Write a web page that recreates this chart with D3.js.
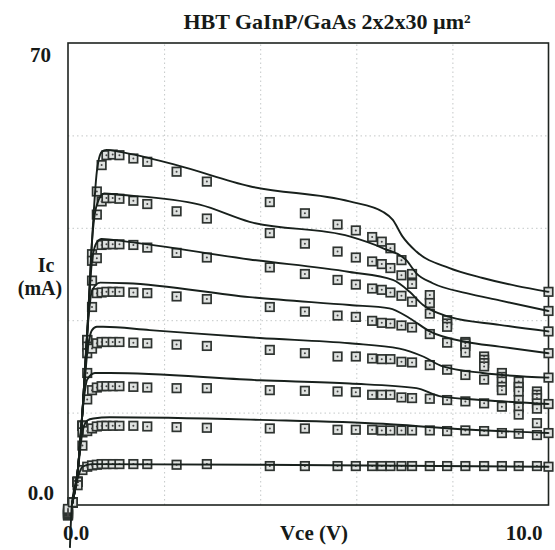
<!DOCTYPE html>
<html>
<head>
<meta charset="utf-8">
<script src="https://cdn.jsdelivr.net/npm/d3@7"></script>
<style>
  body { margin: 0; background: #fff; }
  svg text { font-family: "Liberation Serif", "DejaVu Serif", serif; font-weight: bold; fill: #161a18; }
</style>
</head>
<body>
<div id="chart"></div>
<script>
// measured Vce sweep (V), shared by all bias curves
const vceMeas = [0.0, 0.1, 0.2, 0.3, 0.4, 0.5, 0.6, 0.7, 0.8, 0.93, 1.07, 1.36, 1.65, 2.26, 2.89,
  4.2, 4.93, 5.61, 5.99, 6.33, 6.53, 6.71, 6.94, 7.16, 7.53, 7.89, 8.27, 8.66, 9.03, 9.38, 9.76, 10.0];

// measured Ic (mA), one array per base current step (top to bottom)
const icMeas1 = [-1.6, 0.4, 3.5, 12, 25, 38, 47.5, 51.5, 53.0, 53.1, 53.0, 52.5, 52.0, 50.5, 49.0,
  45.9, 44.2, 42.5, 41.6, 40.6, 39.9, 38.9, 37.1, 35.0, 31.8, 28.0, 24.7, 22.5, 20.0, 18.7, 17.2, 32.3];
const icMeas2 = [-1.5, 0.4, 3.5, 12, 25, 37, 44, 46.0, 46.5, 46.5, 46.4, 46.1, 45.6, 44.5, 43.4,
  41.2, 39.6, 38.4, 37.5, 36.9, 36.5, 35.9, 34.8, 33.5, 30.6, 27.5, 24.5, 22.0, 19.4, 17.9, 16.7, 29.4];
const icMeas3 = [-1.4, 0.4, 3.5, 12, 24, 34, 37.4, 39.4, 39.5, 39.5, 39.5, 39.4, 39.0, 38.2, 37.5,
  36.0, 35.0, 34.1, 33.4, 32.8, 32.6, 32.2, 31.7, 30.8, 29.0, 27.0, 24.1, 21.5, 18.7, 17.2, 16.2, 26.3];
const icMeas4 = [-1.3, 0.4, 3.5, 12, 23, 30, 32.1, 32.2, 32.3, 32.3, 32.3, 32.2, 32.1, 31.6, 31.2,
  30.0, 29.3, 28.7, 28.5, 27.9, 27.6, 27.5, 27.2, 26.9, 25.9, 24.6, 23.1, 21.0, 17.9, 15.9, 15.4, 23.0];
const icMeas5 = [-1.2, 0.4, 3.5, 12, 20, 23.7, 24.5, 24.7, 24.7, 24.7, 24.7, 24.6, 24.5, 24.3, 24.1,
  23.5, 23.0, 22.5, 22.5, 22.2, 22.1, 22.1, 21.7, 21.6, 21.2, 20.5, 19.7, 19.0, 17.4, 14.8, 14.6, 19.3];
const icMeas6 = [-1.0, 0.4, 3.5, 11, 16, 17.4, 17.8, 18.0, 18.0, 18.0, 18.0, 17.9, 17.8, 17.7, 17.7,
  17.4, 17.3, 17.2, 17.1, 16.7, 16.7, 16.7, 16.3, 16.2, 16.1, 15.9, 15.7, 15.4, 14.9, 13.7, 12.4, 15.3];
const icMeas7 = [-0.8, 0.4, 3.5, 9, 11.2, 11.6, 11.9, 12.0, 12.0, 12.0, 12.0, 12.0, 11.9, 11.8, 11.7,
  11.6, 11.6, 11.4, 11.4, 11.4, 11.3, 11.3, 11.3, 11.3, 11.3, 11.2, 11.3, 11.2, 10.9, 10.8, 10.6, 10.9];
const icMeas8 = [-0.6, 0.4, 3.0, 5.3, 5.8, 6.0, 6.1, 6.2, 6.2, 6.2, 6.2, 6.2, 6.2, 6.1, 6.2,
  5.9, 5.9, 5.9, 5.9, 5.9, 5.9, 5.9, 5.9, 5.9, 5.9, 5.9, 5.9, 5.9, 5.9, 5.9, 5.9, 5.8];

// simulated curves, [Vce (V), Ic (mA)]
const sim1 = [[0.04, -6.5], [0.08, 0], [0.2, 5], [0.3, 14], [0.4, 26], [0.5, 40], [0.6, 50.5], [0.7, 53.5], [0.8, 53.8],
  [1.08, 53.5], [2.26, 51.5], [3.78, 48.3], [5.86, 46.0], [6.56, 44.4], [6.76, 43.2], [6.96, 40.7], [7.25, 38.4],
  [7.94, 35.9], [8.63, 34.4], [9.33, 33.2], [10, 32.3]];
const sim2 = [[0.08, 0], [0.2, 5], [0.3, 14], [0.4, 26], [0.5, 40], [0.6, 45.5], [0.75, 47.2], [1.08, 47.0],
  [2.74, 45.5], [3.78, 42.9], [5.86, 40.7], [6.56, 38.9], [7.04, 37.1], [7.25, 35.1], [7.59, 33.6], [8.29, 32.1],
  [8.98, 31.0], [10, 29.4]];
const sim3 = [[0.08, 0], [0.2, 5], [0.3, 14], [0.4, 26], [0.5, 37], [0.6, 39.8], [0.7, 40.3], [1.22, 39.9],
  [3.78, 37.2], [5.86, 35.3], [6.76, 34.1], [7.11, 32.3], [7.39, 30.3], [7.94, 28.5], [8.98, 27.3], [10, 26.3]];
const sim4 = [[0.08, 0], [0.2, 5], [0.3, 14], [0.4, 26], [0.5, 32.5], [0.67, 33.7], [1.22, 33.6], [3.78, 31.5],
  [5.86, 30.3], [6.69, 29.8], [7.11, 28.3], [7.53, 26.3], [8.29, 24.7], [8.98, 24.0], [10, 23.0]];
const sim5 = [[0.08, 0], [0.2, 5], [0.3, 14], [0.4, 23], [0.5, 26.5], [0.6, 27.0], [0.73, 27.0], [1.7, 26.5],
  [3.99, 25.3], [5.86, 24.5], [6.9, 23.7], [7.39, 22.5], [7.8, 21.0], [8.63, 20.0], [10, 19.3]];
const sim6 = [[0.08, 0], [0.2, 5], [0.3, 14], [0.4, 19], [0.56, 20.0], [0.87, 20.0], [3.99, 18.9], [5.86, 18.4],
  [7.25, 17.7], [7.73, 16.5], [8.63, 15.9], [10, 15.3]];
const sim7 = [[0.08, 0], [0.2, 5], [0.3, 11], [0.4, 12.8], [0.53, 13.1], [0.87, 13.3], [3.99, 12.9], [6.56, 12.3],
  [7.94, 11.6], [10, 10.9]];
const sim8 = [[0.08, 0], [0.2, 4], [0.3, 5.8], [0.49, 6.2], [3.99, 6.1], [10, 5.8]];

const gridVce = [2, 4, 6, 8];
const gridIc = [14, 28, 42, 56];

const width = 555, height = 550;
const marginLeft = 68, marginRight = 6, marginTop = 43, marginBottom = 45;

const x = d3.scaleLinear([0, 10], [marginLeft, width - marginRight - 0.5]);
const y = d3.scaleLinear([0, 70], [height - marginBottom, marginTop]);

const svg = d3.select("#chart").append("svg")
  .attr("width", width)
  .attr("height", height)
  .attr("viewBox", [0, 0, width, height]);

// dotted grid
svg.append("g")
  .attr("transform", `translate(0,${y(0)})`)
  .call(d3.axisBottom(x).tickValues(gridVce).tickSize(-(y(0) - y(70))).tickFormat(""))
  .call(g => g.select(".domain").remove())
  .call(g => g.selectAll("line").attr("stroke", "#c4c8c8").attr("stroke-dasharray", "1.5,3"));

svg.append("g")
  .attr("transform", `translate(${x(0)},0)`)
  .call(d3.axisLeft(y).tickValues(gridIc).tickSize(-(x(10) - x(0))).tickFormat(""))
  .call(g => g.select(".domain").remove())
  .call(g => g.selectAll("line").attr("stroke", "#c4c8c8").attr("stroke-dasharray", "1.5,3"));

// frame
svg.append("rect")
  .attr("x", x(0)).attr("y", y(70))
  .attr("width", x(10) - x(0)).attr("height", y(0) - y(70))
  .attr("fill", "none").attr("stroke", "#1e2420").attr("stroke-width", 1.6);

// measured squares
const measured = [icMeas1, icMeas2, icMeas3, icMeas4, icMeas5, icMeas6, icMeas7, icMeas8];
const pts = measured.flatMap(ic => ic.map((v, i) => [vceMeas[i], v]));
const s = 8.5;
const marks = svg.append("g");
marks.selectAll("rect")
  .data(pts)
  .join("rect")
  .attr("x", d => x(d[0]) - s / 2)
  .attr("y", d => y(d[1]) - s / 2)
  .attr("width", s).attr("height", s)
  .attr("fill", "#dfe2e0")
  .attr("stroke", "#2e3330")
  .attr("stroke-width", 1.7);
marks.selectAll("circle")
  .data(pts)
  .join("circle")
  .attr("cx", d => x(d[0]))
  .attr("cy", d => y(d[1]))
  .attr("r", 1)
  .attr("fill", "#444");

// simulated curves
const line = d3.line()
  .curve(d3.curveMonotoneX)
  .x(d => x(d[0]))
  .y(d => y(d[1]));

svg.append("g")
  .attr("fill", "none")
  .attr("stroke", "#18201c")
  .attr("stroke-width", 1.9)
  .selectAll("path")
  .data([sim1, sim2, sim3, sim4, sim5, sim6, sim7, sim8])
  .join("path")
  .attr("d", line);

// texts
svg.append("text")
  .attr("x", 327).attr("y", 29)
  .attr("text-anchor", "middle")
  .attr("font-size", 22)
  .text("HBT GaInP/GaAs 2x2x30 µm²");

svg.append("text")
  .attr("x", x(0) - 17).attr("y", y(70) + 19)
  .attr("text-anchor", "end")
  .attr("font-size", 21)
  .text("70");

svg.append("text")
  .attr("x", x(0) - 14).attr("y", y(0) - 5)
  .attr("text-anchor", "end")
  .attr("font-size", 21)
  .text("0.0");

svg.append("text")
  .attr("x", x(0) - 5).attr("y", height - 10)
  .attr("text-anchor", "start")
  .attr("font-size", 21)
  .text("0.0");

svg.append("text")
  .attr("x", x(10) - 6).attr("y", height - 10)
  .attr("text-anchor", "end")
  .attr("font-size", 21)
  .text("10.0");

svg.append("text")
  .attr("x", 314).attr("y", height - 10)
  .attr("text-anchor", "middle")
  .attr("font-size", 21)
  .text("Vce (V)");

svg.append("text")
  .attr("x", 46).attr("y", 272)
  .attr("text-anchor", "middle")
  .attr("font-size", 20)
  .text("Ic");

svg.append("text")
  .attr("x", 40).attr("y", 295)
  .attr("text-anchor", "middle")
  .attr("font-size", 20)
  .text("(mA)");
</script>
</body>
</html>
